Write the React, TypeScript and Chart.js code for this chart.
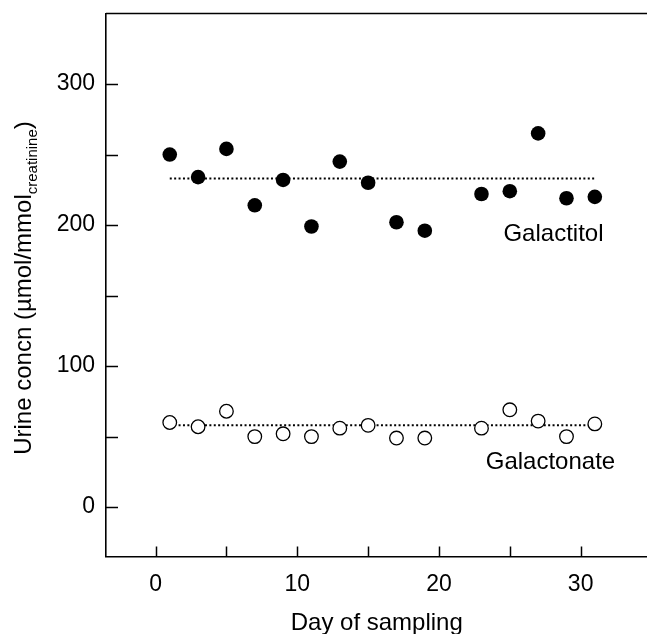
import React, { useEffect, useRef } from 'react';
import { Chart, registerables } from 'chart.js';

Chart.register(...registerables);

// ---- data ----
const days = [1, 3, 5, 7, 9, 11, 13, 15, 17, 19, 23, 25, 27, 29, 31];
const galactitol = [250, 234, 254, 214, 232, 199, 245, 230, 202, 196, 222, 224, 265, 219, 220];
const galactonate = [60, 57, 68, 50, 52, 50, 56, 58, 49, 49, 56, 69, 61, 50, 59];
const galactitolMean = 233;
const galactonateMean = 58;
const meanDayRange = [1, 31];
const xTickLabels = [0, 10, 20, 30];
const yTickLabels = [0, 100, 200, 300];
const xTitle = 'Day of sampling';
const yTitleMain = 'Urine concn (µmol/mmol';
const yTitleSub = 'creatinine';
const yTitleEnd = ')';
const galactitolLabel = { text: 'Galactitol', day: 24.55, value: 189 };
const galactonateLabel = { text: 'Galactonate', day: 23.3, value: 26.9 };

const FONT = '"Liberation Sans", Arial, Helvetica, sans-serif';

const decoPlugin = {
  id: 'deco',
  afterDraw(chart: any) {
    const { ctx, chartArea, scales } = chart;
    const { left, right, top, bottom } = chartArea;
    const x = scales.x;
    const y = scales.y;
    ctx.save();
    ctx.strokeStyle = '#000';
    ctx.lineWidth = 1.6;
    // top frame line
    ctx.beginPath();
    ctx.moveTo(left, top);
    ctx.lineTo(right + 10, top);
    ctx.stroke();
    // inward ticks (every 50 on y, every 5 on x)
    ctx.lineWidth = 1.5;
    for (let v = Math.ceil(y.min / 50) * 50; v < y.max; v += 50) {
      if (v <= y.min) continue;
      const py = Math.round(y.getPixelForValue(v)) + 0.5;
      ctx.beginPath();
      ctx.moveTo(left, py);
      ctx.lineTo(left + 12, py);
      ctx.stroke();
    }
    for (let v = Math.ceil(x.min / 5) * 5; v < x.max; v += 5) {
      if (v <= x.min) continue;
      const px = Math.round(x.getPixelForValue(v)) + 0.5;
      ctx.beginPath();
      ctx.moveTo(px, bottom);
      ctx.lineTo(px, bottom - 10);
      ctx.stroke();
    }
    ctx.fillStyle = '#000';
    // x title
    ctx.font = `24px ${FONT}`;
    ctx.textAlign = 'center';
    ctx.textBaseline = 'alphabetic';
    ctx.fillText(xTitle, (left + right) / 2 - 2, 629.5);
    // annotations
    ctx.textAlign = 'left';
    ctx.fillText(
      galactitolLabel.text,
      x.getPixelForValue(galactitolLabel.day),
      y.getPixelForValue(galactitolLabel.value)
    );
    ctx.fillText(
      galactonateLabel.text,
      x.getPixelForValue(galactonateLabel.day),
      y.getPixelForValue(galactonateLabel.value)
    );
    // y title with subscript
    ctx.font = `24px ${FONT}`;
    const wMain = ctx.measureText(yTitleMain).width;
    const wEnd = ctx.measureText(yTitleEnd).width;
    ctx.font = `15px ${FONT}`;
    const wSub = ctx.measureText(yTitleSub).width;
    const total = wMain + wSub + wEnd;
    ctx.translate(30.5, (top + bottom) / 2 + 3);
    ctx.rotate(-Math.PI / 2);
    const x0 = -total / 2;
    ctx.font = `24px ${FONT}`;
    ctx.fillText(yTitleMain, x0, 0);
    ctx.font = `15px ${FONT}`;
    ctx.fillText(yTitleSub, x0 + wMain, 6);
    ctx.font = `24px ${FONT}`;
    ctx.fillText(yTitleEnd, x0 + wMain + wSub, 0);
    ctx.restore();
  },
};

export default function App() {
  const ref = useRef<HTMLCanvasElement | null>(null);

  useEffect(() => {
    if (!ref.current) return;
    const pts = (vals: number[]) => days.map((d, i) => ({ x: d, y: vals[i] }));
    const chart = new Chart(ref.current, {
      type: 'scatter',
      data: {
        datasets: [
          {
            label: 'Galactitol',
            data: pts(galactitol),
            pointRadius: 7.3,
            pointBackgroundColor: '#000',
            pointBorderColor: '#000',
            pointBorderWidth: 0,
            order: 0,
          },
          {
            label: 'Galactonate',
            data: pts(galactonate),
            pointRadius: 6.8,
            pointBackgroundColor: '#fff',
            pointBorderColor: '#000',
            pointBorderWidth: 1.3,
            order: 0,
          },
          {
            label: 'Galactitol mean',
            data: meanDayRange.map((d) => ({ x: d, y: galactitolMean })),
            showLine: true,
            pointRadius: 0,
            borderColor: '#000',
            borderWidth: 2,
            borderDash: [2, 2.4],
            order: 1,
          },
          {
            label: 'Galactonate mean',
            data: meanDayRange.map((d) => ({ x: d, y: galactonateMean })),
            showLine: true,
            pointRadius: 0,
            borderColor: '#000',
            borderWidth: 2,
            borderDash: [2, 2.4],
            order: 1,
          },
        ],
      },
      options: {
        animation: false,
        responsive: false,
        maintainAspectRatio: false,
        layout: { padding: { left: 0, top: 13.5, right: 8.5, bottom: 0 } },
        plugins: {
          legend: { display: false },
          tooltip: { enabled: false },
          title: { display: false },
        },
        scales: {
          x: {
            type: 'linear',
            min: -3.5,
            max: 35,
            grid: { display: false, drawTicks: false },
            border: { display: true, color: '#000', width: 1.6 },
            ticks: {
              stepSize: 5,
              includeBounds: false,
              padding: 14,
              color: '#000',
              font: { family: FONT, size: 23 },
              maxRotation: 0,
              autoSkip: false,
              callback: (v: any) => (xTickLabels.includes(Number(v)) ? String(v) : null),
            },
            afterFit: (s: any) => {
              s.height = 77.5;
              s.paddingLeft = 0;
              s.paddingRight = 0;
            },
          },
          y: {
            type: 'linear',
            min: -35,
            max: 350,
            grid: { display: false, drawTicks: false },
            border: { display: true, color: '#000', width: 1.6 },
            ticks: {
              stepSize: 50,
              includeBounds: false,
              padding: 11,
              color: '#000',
              font: { family: FONT, size: 23 },
              autoSkip: false,
              callback: (v: any) => (yTickLabels.includes(Number(v)) ? String(v) : null),
            },
            afterFit: (s: any) => {
              s.width = 106;
              s.paddingTop = 0;
              s.paddingBottom = 0;
            },
          },
        },
      },
      plugins: [decoPlugin],
    });
    return () => chart.destroy();
  }, []);

  return (
    <div
      style={{
        position: 'fixed',
        left: 0,
        top: 0,
        width: 647,
        height: 634,
        overflow: 'hidden',
        background: '#fff',
      }}
    >
      <canvas ref={ref} width={660} height={634} style={{ width: 660, height: 634, display: 'block' }} />
    </div>
  );
}
